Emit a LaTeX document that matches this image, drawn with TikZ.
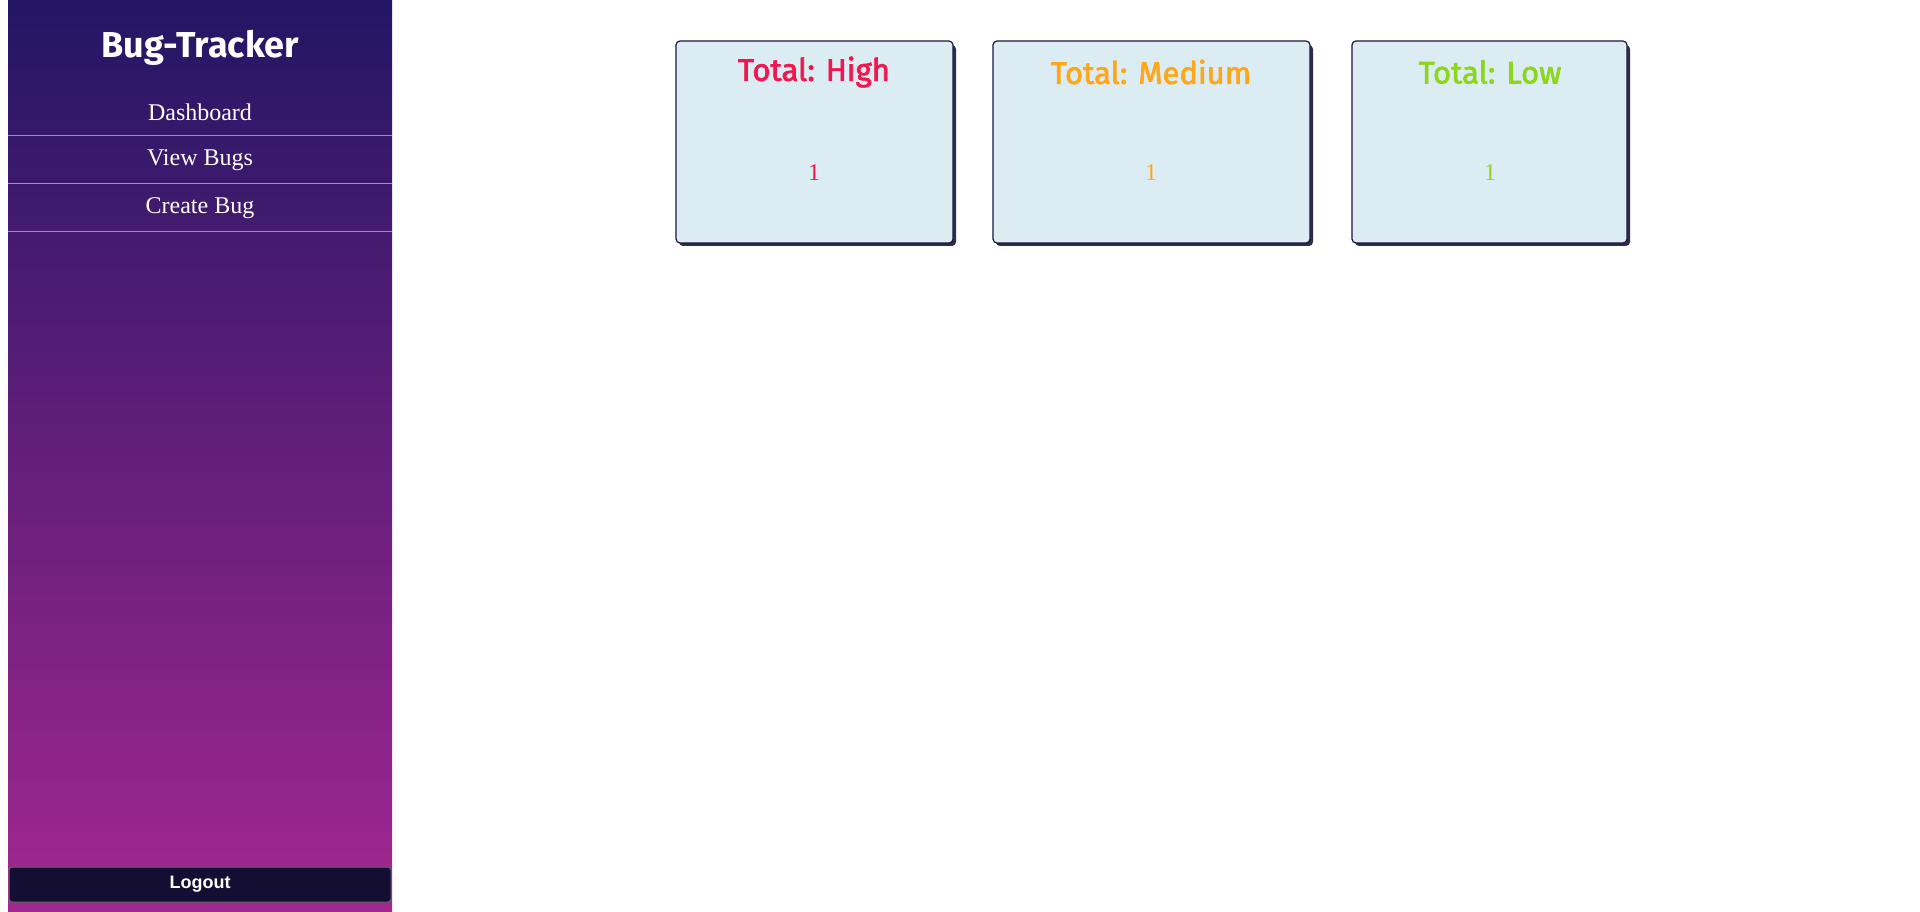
\documentclass[tikz,border=0pt]{standalone}
\usepackage{fontspec}
\setmainfont{Liberation Serif}
\newfontfamily\exo{Fira Sans}
\newfontfamily\exomed{Fira Sans}[FakeBold=2.2]
\newfontfamily\arial{Liberation Sans}
\definecolor{sidetop}{RGB}{35,22,100}
\definecolor{sidebot}{RGB}{163,39,143}
\definecolor{cardfill}{RGB}{220,236,243}
\definecolor{cardline}{RGB}{26,24,60}
\definecolor{cardshadow}{RGB}{45,45,75}
\definecolor{hicol}{RGB}{240,22,78}
\definecolor{medcol}{RGB}{255,167,24}
\definecolor{locol}{RGB}{140,214,28}
\definecolor{btnfill}{RGB}{20,14,50}
\definecolor{sepline}{RGB}{150,150,160}
\tikzset{
  card/.style={draw=cardline, line width=1.2pt, fill=cardfill, rounded corners=4pt},
  cardshad/.style={fill=cardshadow, rounded corners=4pt},
  navitem/.style={text=white, font=\fontsize{24}{27}\selectfont},
  cardtitle/.style={font=\exomed\fontsize{31}{36}\selectfont},
  cardnum/.style={font=\fontsize{24}{27}\selectfont},
  sep/.style={draw=sepline, line width=1pt}
}
\begin{document}
\begin{tikzpicture}[x=1pt,y=-1pt]
\useasboundingbox (0,0) rectangle (1920,912);
\fill[white] (0,0) rectangle (1920,912);
% sidebar
\shade[top color=sidetop, bottom color=sidebot, draw=none] (8,0) rectangle (392,912);
\node[text=white, font=\exo\bfseries\fontsize{36}{42}\selectfont] (title) at (200,48) {Bug-Tracker};
\node[navitem] (dash) at (200,112) {Dashboard};
\draw[sep] (8,136) -- (392,136);
\node[navitem] (view) at (200,160) {View Bugs};
\draw[sep] (8,184) -- (392,184);
\node[navitem] (create) at (200,208) {Create Bug};
\draw[sep] (8,232) -- (392,232);
% logout
\draw[fill=btnfill, draw=gray!80!black, line width=1pt, rounded corners=3pt] (9,867) rectangle (391,902);
\node[text=white, font=\arial\bfseries\fontsize{18}{20}\selectfont] (logout) at (200,884) {Logout};
% cards
\fill[cardshad] (679,45) rectangle (956,246);
\draw[card] (676,41) rectangle (953,243);
\node[cardtitle, text=hicol] (hit) at (814,72) {Total: High};
\node[cardnum, text=hicol] (hin) at (814,173) {1};

\fill[cardshad] (996,45) rectangle (1313,246);
\draw[card] (993,41) rectangle (1310,243);
\node[cardtitle, text=medcol] (medt) at (1151,72) {Total: Medium};
\node[cardnum, text=medcol] (medn) at (1151,173) {1};

\fill[cardshad] (1355,45) rectangle (1630,246);
\draw[card] (1352,41) rectangle (1627,243);
\node[cardtitle, text=locol] (lot) at (1490,72) {Total: Low};
\node[cardnum, text=locol] (lon) at (1490,173) {1};
\end{tikzpicture}
\end{document}
